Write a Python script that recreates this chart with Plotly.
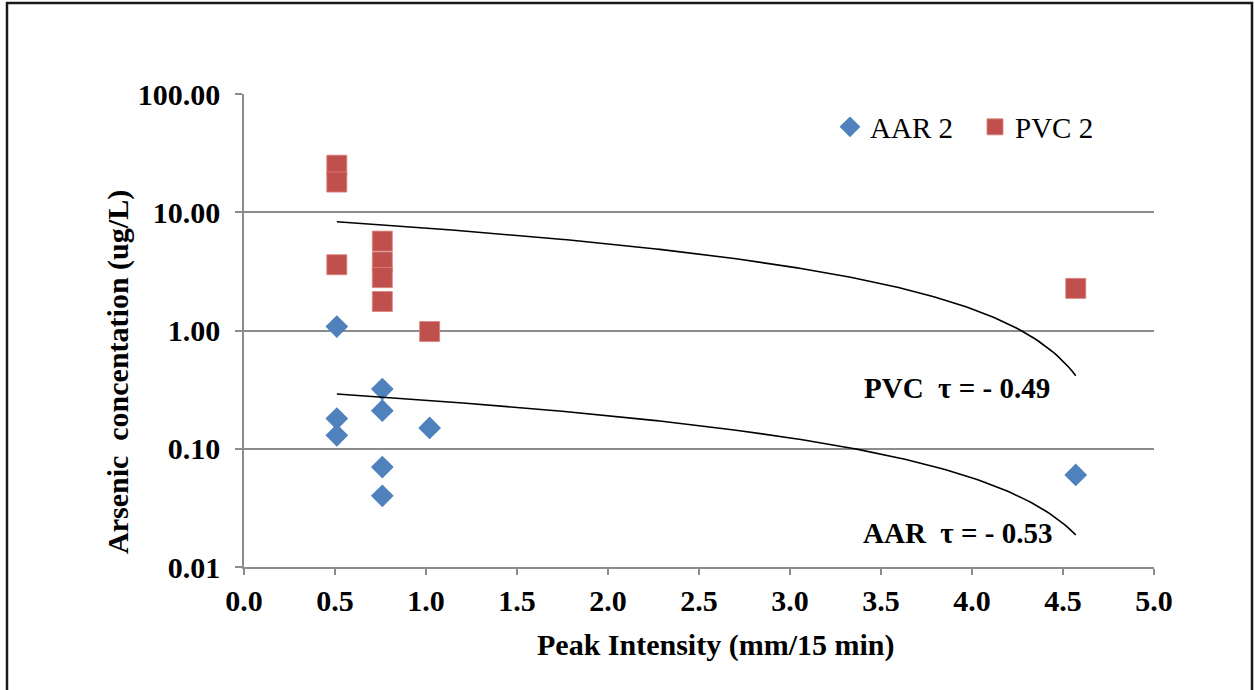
import numpy as np
import plotly.graph_objects as go

# Data
aar_x = [0.51, 0.51, 0.51, 0.76, 0.76, 0.76, 0.76, 1.02, 4.57]
aar_y = [1.08, 0.18, 0.13, 0.32, 0.21, 0.07, 0.04, 0.15, 0.06]
pvc_x = [0.51, 0.51, 0.51, 0.76, 0.76, 0.76, 0.76, 1.02, 4.57]
pvc_y = [25.0, 18.0, 3.6, 5.7, 3.8, 2.8, 1.76, 0.98, 2.27]

y_tickvals = [0.01, 0.1, 1, 10, 100]
y_ticktext = ["0.01", "0.10", "1.00", "10.00", "100.00"]
x_tickvals = [0.0, 0.5, 1.0, 1.5, 2.0, 2.5, 3.0, 3.5, 4.0, 4.5, 5.0]
x_ticktext = ["0.0", "0.5", "1.0", "1.5", "2.0", "2.5", "3.0", "3.5", "4.0", "4.5", "5.0"]

FONT = "Liberation Serif, Times New Roman, serif"
BLUE = "#4F81BD"
RED = "#C0504D"
GRID = "#8C8C8C"


def linear_trend(xs, ys, n=200):
    b, a = np.polyfit(xs, ys, 1)
    tx = np.linspace(min(xs), max(xs), n)
    return tx, a + b * tx


fig = go.Figure()

fig.add_trace(go.Scatter(
    x=aar_x, y=aar_y, mode="markers", name="AAR 2",
    marker=dict(symbol="diamond", size=17.5, color=BLUE, line=dict(width=0)),
))
fig.add_trace(go.Scatter(
    x=pvc_x, y=pvc_y, mode="markers", name="PVC 2",
    marker=dict(symbol="square", size=20, color=RED, line=dict(width=0.8, color="#D9827F")),
))

tx, ty = linear_trend(pvc_x, pvc_y)
fig.add_trace(go.Scatter(x=tx, y=ty, mode="lines", line=dict(color="black", width=1.6),
                         showlegend=False, hoverinfo="skip"))
tx, ty = linear_trend(aar_x, aar_y)
fig.add_trace(go.Scatter(x=tx, y=ty, mode="lines", line=dict(color="black", width=1.6),
                         showlegend=False, hoverinfo="skip"))

L, R, T, B = 244, 1154, 94, 567
W, H = 1255, 690
pw, ph = R - L, B - T

fig.update_layout(
    width=W, height=H,
    margin=dict(l=L, r=W - R, t=T, b=H - B),
    plot_bgcolor="white", paper_bgcolor="white",
    font=dict(family=FONT, color="black", size=29),
    showlegend=True,
    legend=dict(
        orientation="h", x=(830 - L) / pw, y=(B - 127) / ph,
        xanchor="left", yanchor="middle",
        font=dict(family=FONT, size=29, color="black"),
        bgcolor="rgba(0,0,0,0)", itemwidth=30,
        entrywidth=100, entrywidthmode="pixels",
    ),
    xaxis=dict(
        range=[0, 5], tickvals=x_tickvals, ticktext=x_ticktext,
        showgrid=False, zeroline=False,
        showline=True, linecolor=GRID, linewidth=1.6,
        ticks="outside", ticklen=6, tickcolor=GRID, tickwidth=1.6,
        tickfont=dict(family=FONT, size=30, color="black", weight="bold"),
    ),
    yaxis=dict(
        type="log", range=[-2, 2], tickvals=y_tickvals, ticktext=y_ticktext,
        showgrid=True, gridcolor=GRID, gridwidth=1.6, zeroline=False,
        showline=True, linecolor=GRID, linewidth=1.6,
        ticks="outside", ticklen=7, tickcolor=GRID, tickwidth=1.6,
        ticklabelstandoff=9,
        tickfont=dict(family=FONT, size=30, color="black", weight="bold"),
    ),
)

# axis titles (placed as in the reference, slightly off-centre)
fig.add_annotation(
    x=(715 - L) / pw, y=(B - 645) / ph, xref="paper", yref="paper",
    showarrow=False, text="<b>Peak Intensity (mm/15 min)</b>",
    font=dict(family=FONT, size=30, color="black"),
    xanchor="center", yanchor="middle",
)
fig.add_annotation(
    x=(118 - L) / pw, y=(B - 372) / ph, xref="paper", yref="paper",
    showarrow=False, textangle=-90,
    text="<b>Arsenic\u00a0\u00a0concentation (ug/L)</b>",
    font=dict(family=FONT, size=30, color="black"),
    xanchor="center", yanchor="middle",
)

fig.add_annotation(
    x=3.92, y=-0.486, xref="x", yref="y", showarrow=False,
    text="<b>PVC\u00a0\u00a0τ = - 0.49</b>",
    font=dict(family=FONT, size=29, color="black"),
)
fig.add_annotation(
    x=3.92, y=-1.713, xref="x", yref="y", showarrow=False,
    text="<b>AAR\u00a0\u00a0τ = - 0.53</b>",
    font=dict(family=FONT, size=29, color="black"),
)

# outer chart border
fig.add_shape(
    type="rect", xref="paper", yref="paper",
    x0=(7 - L) / pw, x1=(1252 - L) / pw,
    y0=(B - 700) / ph, y1=(B - 3) / ph,
    line=dict(color="#1a1a1a", width=2.5), fillcolor="rgba(0,0,0,0)",
    layer="below",
)

fig.write_html("out.html")
